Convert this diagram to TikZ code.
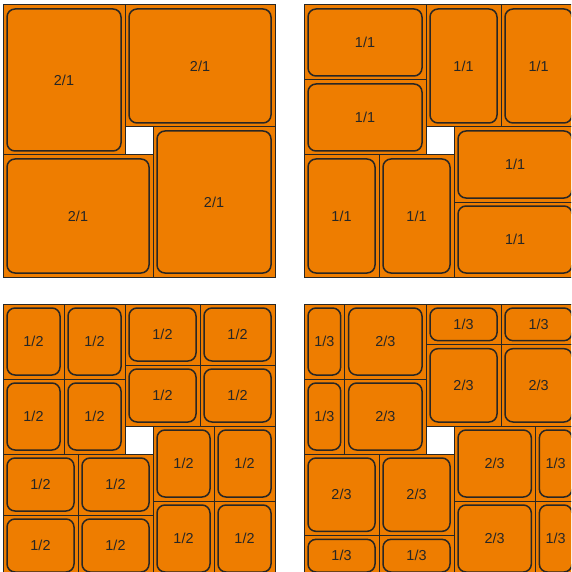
\documentclass[tikz,border=0pt]{standalone}
\usepackage{fontspec}
\setmainfont{Liberation Sans}
\usetikzlibrary{calc}
\definecolor{panorange}{RGB}{238,125,0}
\definecolor{rimgray}{RGB}{40,38,36}

\tikzset{
  cellbox/.style={draw=rimgray, line width=1pt, fill=panorange},
  panbox/.style={draw=rimgray, line width=1.5pt, rounded corners=8pt},
  panlabel/.style={font=\fontsize{14.4}{16}\selectfont, text=black!85}
}

% one pan in its cell: x, y, width, height, label, name
\newcommand{\pan}[6]{%
  \draw[cellbox] (#1,#2) rectangle ++(#3,#4);
  \draw[panbox] ($(#1,#2)+(4,4)$) rectangle ($(#1,#2)+(#3,#4)+(-4,-4)$);
  \node[panlabel] (#6) at ($(#1,#2)+0.5*(#3,#4)$) {#5};
}

\begin{document}
\begin{tikzpicture}[x=1pt, y=-1pt]
  \useasboundingbox (0,0) rectangle (571,572);
  \clip (0,0) rectangle (571,572);

  % 2/1 pans
  \begin{scope}[shift={(3,5)}]
    \pan{0}{0}{122}{150}{2/1}{a1}
    \pan{122}{0}{150}{122}{2/1}{a2}
    \pan{150}{122}{122}{150}{2/1}{a3}
    \pan{0}{150}{150}{122}{2/1}{a4}
  \end{scope}

  % 1/1 pans
  \begin{scope}[shift={(304,5)}]
    \foreach \i in {0,1} {
      \pan{0}{75*\i}{122}{75}{1/1}{b1\i}
      \pan{122+75*\i}{0}{75}{122}{1/1}{b2\i}
      \pan{150}{122+75*\i}{122}{75}{1/1}{b3\i}
      \pan{75*\i}{150}{75}{122}{1/1}{b4\i}
    }
  \end{scope}

  % 1/2 pans
  \begin{scope}[shift={(3,304)}]
    \foreach \i in {0,1} {
      \foreach \j in {0,1} {
        \pan{61*\i}{75*\j}{61}{75}{1/2}{c1\i\j}
        \pan{122+75*\i}{61*\j}{75}{61}{1/2}{c2\i\j}
        \pan{150+61*\i}{122+75*\j}{61}{75}{1/2}{c3\i\j}
        \pan{75*\i}{150+61*\j}{75}{61}{1/2}{c4\i\j}
      }
    }
  \end{scope}

  % 1/3 and 2/3 pans
  \begin{scope}[shift={(304,304)}]
    \foreach \i in {0,1} {
      \pan{0}{75*\i}{122/3}{75}{1/3}{d1s\i}
      \pan{122/3}{75*\i}{244/3}{75}{2/3}{d1l\i}
      \pan{122+75*\i}{0}{75}{122/3}{1/3}{d2s\i}
      \pan{122+75*\i}{122/3}{75}{244/3}{2/3}{d2l\i}
      \pan{150}{122+75*\i}{244/3}{75}{2/3}{d3l\i}
      \pan{150+244/3}{122+75*\i}{122/3}{75}{1/3}{d3s\i}
      \pan{75*\i}{150}{75}{244/3}{2/3}{d4l\i}
      \pan{75*\i}{150+244/3}{75}{122/3}{1/3}{d4s\i}
    }
  \end{scope}
\end{tikzpicture}
\end{document}
